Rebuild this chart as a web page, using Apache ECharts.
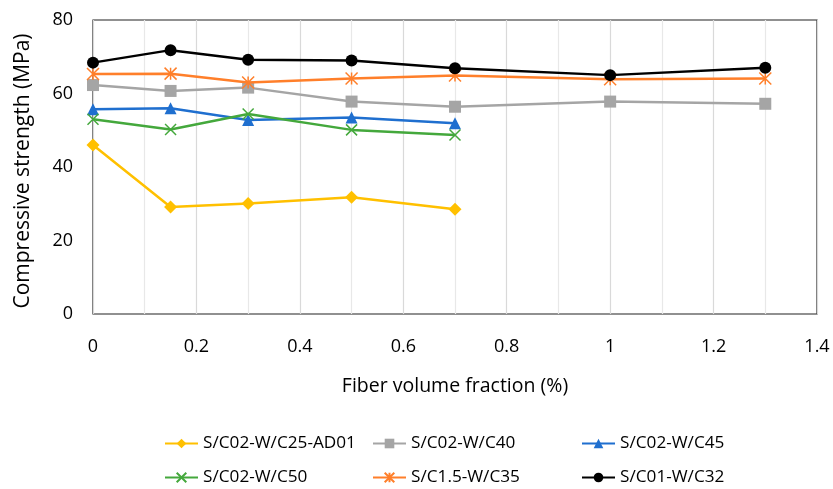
<!DOCTYPE html>
<html>
<head>
<meta charset="utf-8">
<script src="https://cdn.jsdelivr.net/npm/echarts@6/dist/echarts.min.js"></script>
<style>html,body{margin:0;padding:0;background:#fff}#c{width:833px;height:489px}</style>
</head>
<body>
<div id="c"></div>
<script>
const seriesNames = ['S/C02-W/C25-AD01','S/C02-W/C40','S/C02-W/C45','S/C02-W/C50','S/C1.5-W/C35','S/C01-W/C32'];
const xShort = [0, 0.15, 0.3, 0.5, 0.7];
const xLong = [0, 0.15, 0.3, 0.5, 0.7, 1.0, 1.3];
const yC25AD01 = [46.0, 29.1, 30.1, 31.8, 28.5];
const yC40 = [62.3, 60.7, 61.6, 57.8, 56.4, 57.8, 57.2];
const yC45 = [55.7, 56.0, 52.8, 53.5, 51.9];
const yC50 = [53.0, 50.2, 54.4, 50.1, 48.7];
const yC35 = [65.3, 65.4, 63.0, 64.1, 64.9, 63.9, 64.1];
const yC32 = [68.4, 71.8, 69.2, 69.0, 66.9, 65.0, 67.0];
const xTickLabels = ['0','0.2','0.4','0.6','0.8','1','1.2','1.4'];
const yTickLabels = ['0','20','40','60','80'];

const FONT = '"Open Sans", sans-serif';
const pair = (xs, ys) => ys.map((v, i) => [xs[i], v]);
const colors = ['#FFC000','#A5A5A5','#1F6FCF','#44A83C','#FF7F2A','#000000'];
const symbols = ['diamond','rect','triangle','path://M0,0L10,10M0,10L10,0','path://M0,0L10,10M0,10L10,0M5,0L5,10','circle'];
const sizes = [13, 12, 12, 11, 12, 12];
const datas = [pair(xShort,yC25AD01), pair(xLong,yC40), pair(xShort,yC45), pair(xShort,yC50), pair(xLong,yC35), pair(xLong,yC32)];

const series = seriesNames.map((n, i) => {
  const stroked = i === 3 || i === 4;
  return {
    name: n, type: 'line', data: datas[i], symbol: symbols[i], symbolSize: sizes[i],
    showAllSymbol: true, z: 2 + i,
    lineStyle: {color: colors[i], width: 2.5},
    itemStyle: stroked ? {color: colors[i], borderColor: colors[i], borderWidth: 1.5} : {color: colors[i], borderWidth: 0},
    emphasis: {disabled: true}
  };
});

const legendPos = [[159,430],[367,430],[576,430],[159,464],[367,464],[576,464]];
const legends = seriesNames.map((n, i) => ({
  data: [n], left: legendPos[i][0], top: legendPos[i][1], itemWidth: 33, itemHeight: 12, itemGap: 0,
  textStyle: {fontFamily: FONT, fontSize: 17.2, color: '#000'}, selectedMode: false
}));

const chart = echarts.init(document.getElementById('c'), null, {renderer: 'canvas'});
chart.setOption({
  animation: false,
  color: colors,
  grid: {left: 93, top: 20, right: 16, bottom: 175, show: true, borderColor: '#222', borderWidth: 1.2},
  legend: legends,
  xAxis: {
    type: 'value', min: 0, max: 1.4, interval: 0.2,
    name: 'Fiber volume fraction (%)', nameLocation: 'middle', nameGap: 62,
    nameTextStyle: {fontFamily: FONT, fontSize: 19.5, color: '#000'},
    axisLine: {show: false}, axisTick: {show: false},
    axisLabel: {fontFamily: FONT, fontSize: 18, color: '#000', margin: 24,
      formatter: v => xTickLabels[Math.round(v / 0.2)]},
    splitLine: {show: true, lineStyle: {color: '#d9d9d9', width: 1.2}},
    minorTick: {show: false, splitNumber: 2},
    minorSplitLine: {show: true, lineStyle: {color: '#e8e8e8', width: 1.2}}
  },
  yAxis: {
    type: 'value', min: 0, max: 80, interval: 20,
    name: 'Compressive strength (MPa)', nameLocation: 'middle', nameGap: 59,
    nameTextStyle: {fontFamily: FONT, fontSize: 21, color: '#000', padding: [0, 8, 0, 0]},
    axisLine: {show: false}, axisTick: {show: false},
    axisLabel: {fontFamily: FONT, fontSize: 18, color: '#000', margin: 20,
      formatter: v => yTickLabels[Math.round(v / 20)]},
    splitLine: {show: false}
  },
  series: series
});
</script>
</body>
</html>
